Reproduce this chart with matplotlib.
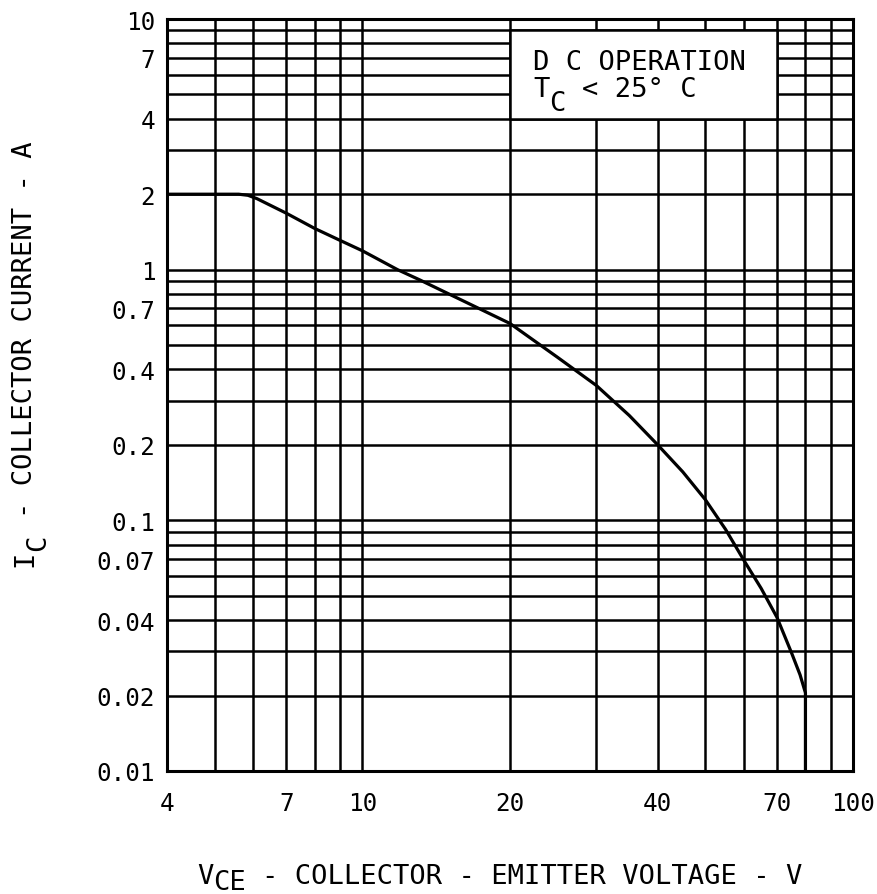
#!/usr/bin/env python3

import numpy as np
from matplotlib import pyplot as plt
from matplotlib.ticker import FixedLocator, LogLocator, NullFormatter
from matplotlib.patches import Rectangle

# DC safe operating area.
vce = [4, 5.6, 5.85, 6.1, 7, 8, 9, 10, 11.8, 13.1, 20, 25, 30, 35, 40,
       45, 50, 55, 60, 65, 70, 75, 78, 80, 80]
ic = [2, 2, 1.98, 1.92, 1.68, 1.46, 1.31, 1.19, 1.0, 0.91, 0.61, 0.447,
      0.345, 0.262, 0.2, 0.156, 0.121, 0.092, 0.069, 0.0535, 0.041, 0.0295,
      0.0242, 0.0205, 0.01]

x_ticks = [4, 7, 10, 20, 40, 70, 100]
x_labels = ['4', '7', '10', '20', '40', '70', '100']
y_ticks = [0.01, 0.02, 0.04, 0.07, 0.1, 0.2, 0.4, 0.7, 1, 2, 4, 7, 10]
y_labels = ['0.01', '0.02', '0.04', '0.07', '0.1', '0.2', '0.4', '0.7',
            '1', '2', '4', '7', '10']

plt.rcParams['font.family'] = 'DejaVu Sans Mono'

W, H = 878, 895
fig = plt.figure(figsize=(W / 100, H / 100), dpi=100)
ax = fig.add_axes([167 / W, 123 / H, 686 / W, 752 / H])

ax.set_xscale('log')
ax.set_yscale('log')
ax.set_xlim(4, 100)
ax.set_ylim(0.01, 10)

ax.xaxis.set_major_locator(FixedLocator(x_ticks))
ax.set_xticklabels(x_labels)
ax.yaxis.set_major_locator(FixedLocator(y_ticks))
ax.set_yticklabels(y_labels)
for axis in (ax.xaxis, ax.yaxis):
    axis.set_minor_locator(LogLocator(base=10, subs=np.arange(1, 10),
                                      numticks=100))
    axis.set_minor_formatter(NullFormatter())

ax.tick_params(which='both', length=0)
ax.tick_params(axis='x', labelsize=17.5, pad=14.4)
ax.tick_params(axis='y', labelsize=17.5, pad=8.5)
ax.grid(True, which='both', color='black', linewidth=1.8)
ax.set_axisbelow(True)
for sp in ax.spines.values():
    sp.set_linewidth(2.2)

# White box for the note, its edges sit on grid lines.
ax.add_patch(Rectangle((20, 4), 70 - 20, 9 - 4, facecolor='white',
                       edgecolor='black', linewidth=1.8, zorder=2))

ax.plot(vce, ic, color='black', linewidth=2.3, zorder=3,
        solid_joinstyle='round', solid_capstyle='butt')

fs = 19.5
pitch = 0.60205 * fs * 100 / 72   # monospace advance in pixels


def pieces(x0, y0, parts, rot=False):
    # parts: (text, char offset, drop in px); drop moves a subscript down
    for s, n, drop in parts:
        if rot:
            fig.text((x0 + drop) / W, (H - y0 + n * pitch) / H, s,
                     fontsize=fs, rotation=90, rotation_mode='anchor',
                     ha='left', va='baseline')
        else:
            fig.text((x0 + n * pitch) / W, (H - y0 - drop) / H, s,
                     fontsize=fs, va='baseline')


# Note in the box.
pieces(533, 70, [('D C OPERATION', 0, 0)])
pieces(533, 97, [('T', 0, 0), ('C', 1, 14), ('< 25\u00b0 C', 3, 0)])

# Axis labels.
pieces(197, 884, [('V', 0, 0), ('CE', 1, 6),
                  ('- COLLECTOR - EMITTER VOLTAGE - V', 4, 0)])
pieces(32, 567, [('I', 0, 0), ('C', 1, 13),
                 ('- COLLECTOR CURRENT - A', 3, 0)], rot=True)

fig.savefig('out.png', dpi=100)
